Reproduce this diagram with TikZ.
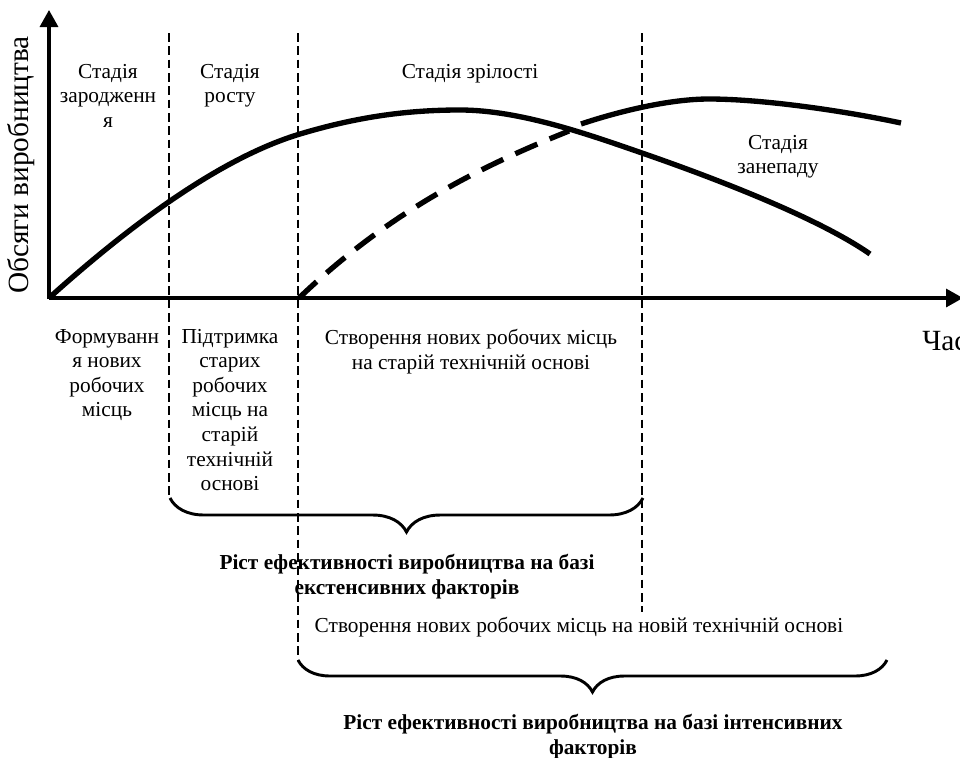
\documentclass[tikz,border=0pt]{standalone}
\usepackage{fontspec}
\setmainfont{Liberation Serif}
\usetikzlibrary{arrows.meta,decorations.pathreplacing}
\begin{document}
\begin{tikzpicture}[x=0.75pt,y=-0.75pt,
  txt/.style={font=\fontsize{16}{18.4}\selectfont, inner sep=0pt, align=center, anchor=north},
  btxt/.style={txt, font=\fontsize{16}{18.4}\selectfont\bfseries},
  biglabel/.style={font=\fontsize{22}{25}\selectfont, inner sep=0pt},
  axis/.style={line width=2.5pt, -{Triangle[length=12.75pt,width=13.5pt]}},
  stageline/.style={line width=1.8pt, dash pattern=on 6.5pt off 3.5pt},
  curve/.style={line width=4pt},
  dcurve/.style={line width=4pt, dash pattern=on 18pt off 10pt},
  bracestyle/.style={line width=2.2pt, decorate, decoration={brace, amplitude=#1, aspect=0.5}}
]
\useasboundingbox (0,0) rectangle (960,757);

% axes
\coordinate (O) at (49,298);
\coordinate (Ytop) at (49,10);
\coordinate (Ybase) at (49,299.2);
\coordinate (Xend) at (963,298);
\draw[axis] (Ybase) -- (Ytop);
\draw[axis] (O) -- (Xend);
\node[biglabel, rotate=90] (ylab) at (21,165) {Обсяги виробництва};
\node[biglabel, anchor=base west] (xlab) at (922,350) {Час};

% stage boundaries
\coordinate (v1t) at (169,33); \coordinate (v1b) at (169,498);
\coordinate (v2t) at (298,33); \coordinate (v2b) at (298,660);
\coordinate (v3t) at (642,33); \coordinate (v3b) at (642,612);
\draw[stageline] (v1t) -- (v1b);
\draw[stageline] (v2t) -- (v2b);
\draw[stageline] (v3t) -- (v3b);

% curves
\coordinate (O2) at (299,298);
\coordinate (cross) at (569,131);
\coordinate (u0) at (581,124);
\coordinate (uend) at (901,123);
\coordinate (mend) at (870,254);
\draw[curve] (O) .. controls (129,226) and (220,158) .. (300,134)
  .. controls (360,116) and (410,110) .. (460,110)
  .. controls (520,110) and (590,135) .. (642,153)
  .. controls (720,180) and (820,219) .. (mend);
\draw[dcurve] (O2) .. controls (389,212) and (479,167) .. (cross);
\draw[curve] (u0) .. controls (620,111) and (670,99) .. (709,99)
  .. controls (760,99) and (840,110) .. (uend);

% stage labels
\node[txt] (s1) at (108,64) {Стадія\\зародженн\\я};
\node[txt] (s2) at (230,64) {Стадія\\росту};
\node[txt] (s3) at (470,64) {Стадія зрілості};
\node[txt] (s4) at (778,135) {Стадія\\занепаду};

% lower labels
\node[txt] (l1) at (107,329) {Формуванн\\я нових\\робочих\\місць};
\node[txt] (l2) at (230,329) {Підтримка\\старих\\робочих\\місць на\\старій\\технічній\\основі};
\node[txt] (l3) at (471,329) {Створення нових робочих місць\\на старій технічній основі};

% braces
\coordinate (b1r) at (643,498); \coordinate (b1l) at (170,498);
\draw[bracestyle=25.5pt] (b1r) -- (b1l);
\node[btxt] (e1) at (407,554) {Ріст ефективності виробництва на базі\\екстенсивних факторів};

\node[txt] (l4) at (579,617) {Створення нових робочих місць на новій технічній основі};

\coordinate (b2r) at (887,660); \coordinate (b2l) at (298,660);
\draw[bracestyle=24pt] (b2r) -- (b2l);
\node[btxt] (e2) at (593,714) {Ріст ефективності виробництва на базі інтенсивних\\факторів};
\end{tikzpicture}
\end{document}
